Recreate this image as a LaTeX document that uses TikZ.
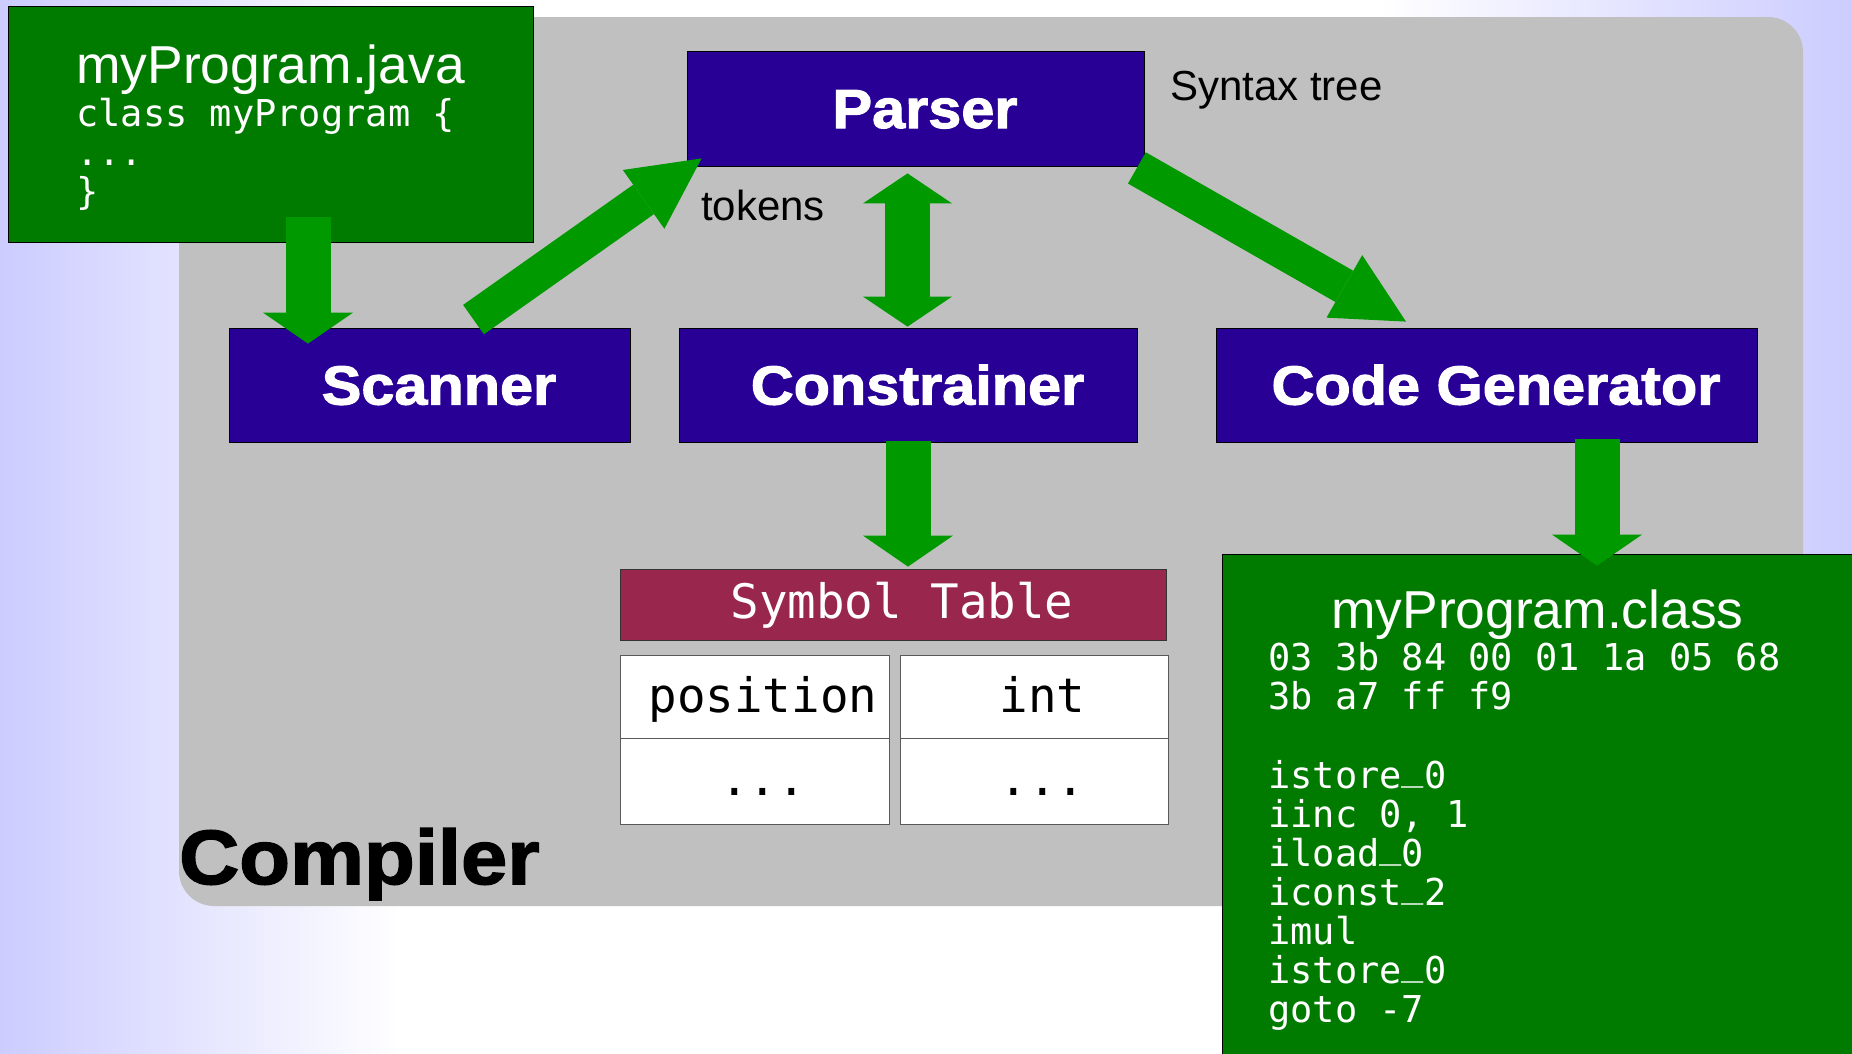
\documentclass[tikz,border=0pt]{standalone}
\usepackage{fontspec}
\setmainfont{Liberation Sans}
\newfontfamily\monof{DejaVu Sans Mono}
\newfontfamily\heavyf{Liberation Sans}[FakeStretch=1.08, FakeBold=2]
\usetikzlibrary{arrows.meta}

\definecolor{lav}{RGB}{204,204,255}
\definecolor{panelgray}{RGB}{192,192,192}
\definecolor{stageblue}{RGB}{41,0,150}
\definecolor{filegreen}{RGB}{0,123,0}
\definecolor{flowgreen}{RGB}{0,153,0}
\definecolor{tablered}{RGB}{153,38,77}

% underscore sitting on the baseline
\newcommand\usc{\raisebox{8.5pt}{\char"5F}}

\tikzset{
  panel/.style={fill=panelgray, rounded corners=35pt, inner sep=0pt,
    minimum width=1624pt, minimum height=889pt},
  stage/.style={draw=black, line width=0.8pt, fill=stageblue, text=white,
    inner sep=0pt, minimum height=114pt, text height=39pt, text depth=0pt,
    font=\heavyf\bfseries\fontsize{55}{60}\selectfont},
  file/.style={draw=black, line width=0.8pt, fill=filegreen, inner sep=0pt},
  filetitle/.style={anchor=base west, inner sep=0pt, text=white,
    text height=38pt, text depth=4pt,
    font=\fontsize{53.4}{56}\selectfont},
  code/.style={anchor=base west, inner sep=0pt, text=white,
    text height=28pt, text depth=6pt,
    font=\monof\fontsize{37}{40}\selectfont},
  note/.style={anchor=base west, inner sep=0pt, text=black,
    font=\fontsize{42}{46}\selectfont},
  symhead/.style={draw=black!80, line width=0.8pt, fill=tablered, text=white,
    inner sep=0pt, text height=34pt, text depth=7pt,
    font=\monof\fontsize{47.5}{50}\selectfont},
  cell/.style={draw=black!65, line width=0.8pt, fill=white, text=black,
    inner sep=0pt, font=\monof\fontsize{47.5}{50}\selectfont},
  flowv/.style={draw=flowgreen, line width=45pt,
    -{Triangle[length=31pt,width=90pt,line width=0pt]}},
  flowd/.style={draw=flowgreen, line width=36pt,
    -{Triangle[length=71pt,width=72pt,line width=0pt]}},
  flowboth/.style={draw=flowgreen, line width=45pt,
    {Triangle[length=30pt,width=89pt,line width=0pt]}-{Triangle[length=30pt,width=89pt,line width=0pt]}},
}

\begin{document}
\begin{tikzpicture}[x=1pt,y=-1pt]
\useasboundingbox (0,0) rectangle (1852,1053);
\clip (0,0) rectangle (1852,1053);

% backdrop: lavender fading to white at both sides
\fill[white] (0,0) rectangle (1852,1053);
\shade[left color=lav, right color=white] (0,0) rectangle (400,1053);
\shade[left color=white, right color=lav] (1380,0) rectangle (1852,1053);

% compiler panel
\node[panel] (compiler) at (991,461.5) {};
\node[anchor=base west, inner sep=0pt, text=black,
      font=\heavyf\bfseries\fontsize{77}{80}\selectfont] (compilerlabel) at (179,884) {Compiler};

% compiler stages
\node[stage, minimum width=457pt, minimum height=115pt] (parser) at (915.5,108.5) {\hspace*{19pt}Parser};
\node[stage, minimum width=401pt] (scanner) at (429.5,385) {\hspace*{19pt}Scanner};
\node[stage, minimum width=458pt] (constrainer) at (908,385) {\hspace*{19pt}Constrainer};
\node[stage, minimum width=541pt] (codegen) at (1486.5,385) {\hspace*{19pt}Code Generator};

% stage annotations
\node[note] (tokens) at (701,220) {tokens};
\node[note] (syntaxtree) at (1170,100) {Syntax tree};

% symbol table
\node[symhead, minimum width=546pt, minimum height=71pt] (symtab) at (893,604.5) {\hspace*{18pt}Symbol Table};
\node[cell, minimum width=269pt, minimum height=83pt, text height=36pt, text depth=5pt] (posname) at (754.5,696.5) {\hspace*{17pt}position};
\node[cell, minimum width=269pt, minimum height=86pt, text height=33pt, text depth=5pt] (posrest) at (754.5,781) {\hspace*{17pt}...};
\node[cell, minimum width=268pt, minimum height=83pt, text height=36pt, text depth=5pt] (inttype) at (1034,696.5) {\hspace*{17pt}int};
\node[cell, minimum width=268pt, minimum height=86pt, text height=33pt, text depth=5pt] (intrest) at (1034,781) {\hspace*{17pt}...};

% source file
\node[file, minimum width=525pt, minimum height=236pt] (java) at (270.5,124) {};
\node[filetitle] (javaname) at (76,83) {myProgram.java};
\node[code] (javaA) at (76,126) {class myProgram \{};
\node[code] (javaB) at (76,165) {...};
\node[code] (javaC) at (76,204) {\}};

% class file
\node[file, minimum width=634pt, minimum height=503pt] (classfile) at (1539,805.5) {};
\node[filetitle] (classname) at (1331,628) {myProgram.class};
\node[code] (classA) at (1268,670) {03 3b 84 00 01 1a 05 68};
\node[code] (classB) at (1268,709) {3b a7 ff f9};
\node[code] (classC) at (1268,788) {istore\usc 0};
\node[code] (classD) at (1268,827) {iinc 0, 1};
\node[code] (classE) at (1268,866) {iload\usc 0};
\node[code] (classF) at (1268,905) {iconst\usc 2};
\node[code] (classG) at (1268,944) {imul};
\node[code] (classH) at (1268,983) {istore\usc 0};
\node[code] (classI) at (1268,1022) {goto -7};

% data flow
\draw[flowv] ([xshift=37.5pt,yshift=25pt]java.south) -- ([xshift=-121.5pt,yshift=-16pt]scanner.north);
\draw[flowd] ([xshift=44pt,yshift=8pt]scanner.north) -- ([xshift=15pt,yshift=8pt]parser.south west);
\draw[flowd] ([xshift=-7.5pt,yshift=-1.5pt]parser.south east) -- ([xshift=-80.5pt,yshift=6pt]codegen.north);
\draw[flowboth] ([xshift=-8pt,yshift=-7pt]parser.south) -- ([xshift=-0.5pt,yshift=1pt]constrainer.north);
\draw[flowv] ([yshift=1pt]constrainer.south) -- ([xshift=15pt,yshift=2pt]symtab.north);
\draw[flowv] ([xshift=110.5pt,yshift=3pt]codegen.south) -- ([xshift=58pt,yshift=-12pt]classfile.north);
\end{tikzpicture}
\end{document}
